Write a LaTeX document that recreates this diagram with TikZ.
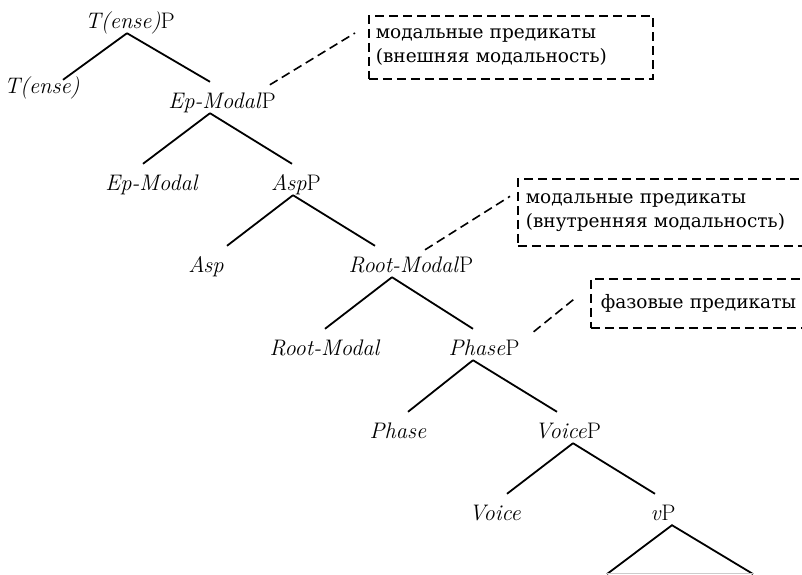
\documentclass[tikz,border=0pt]{standalone}
\usepackage{fontspec}
\newfontfamily\notefont{DejaVu Serif}

\tikzset{
  lbl/.style={anchor=base, font=\fontsize{22.5}{25}\selectfont,
    text height=21pt, text depth=0pt, inner xsep=0pt, inner ysep=5pt},
  branch/.style={line width=1.8pt},
  note/.style={draw, line width=1.6pt, dash pattern=on 9pt off 5pt,
    anchor=north west, align=left, font=\notefont\fontsize{18.5}{24}\selectfont,
    inner xsep=7pt, inner ysep=0pt},
  link/.style={line width=1.6pt, dash pattern=on 9pt off 5pt}
}

\begin{document}
\begin{tikzpicture}[x=1pt, y=-1pt]
    \useasboundingbox (0,0) rectangle (802,574);
    \clip (0,0) rectangle (802,574);

    % tree
    \node[lbl] (tp)   at (130,28)  {\textit{T(ense)}P};
    \node[lbl] (tns)  at (42,93)   {\textit{T(ense)}};
    \node[lbl] (epp)  at (222,108) {\textit{Ep-Modal}P};
    \node[lbl] (ep)   at (152,190) {\textit{Ep-Modal}};
    \node[lbl] (aspp) at (296,190) {\textit{Asp}P};
    \node[lbl] (asp)  at (206,272) {\textit{Asp}};
    \node[lbl] (rmp)  at (411,272) {\textit{Root-Modal}P};
    \node[lbl] (rm)   at (325,355) {\textit{Root-Modal}};
    \node[lbl] (php)  at (484,355) {\textit{Phase}P};
    \node[lbl] (ph)   at (398,438) {\textit{Phase}};
    \node[lbl] (vcp)  at (568,438) {\textit{Voice}P};
    \node[lbl] (vc)   at (495,520) {\textit{Voice}};
    \node[lbl] (vp)   at (663,520) {\textit{v}P};

    \draw[branch] ([xshift=-3pt]tp.south) -- ([xshift=21pt,yshift=-13pt]tns.north);
    \draw[branch] ([xshift=-3pt]tp.south) -- ([xshift=-12pt]epp.north);
    \draw[branch] ([xshift=-12pt]epp.south) -- ([xshift=-9pt]ep.north);
    \draw[branch] ([xshift=-12pt]epp.south) -- ([xshift=-4pt]aspp.north);
    \draw[branch] ([xshift=-3pt]aspp.south) -- ([xshift=21pt]asp.north);
    \draw[branch] ([xshift=-3pt]aspp.south) -- ([xshift=-36pt]rmp.north);
    \draw[branch] ([xshift=-19pt]rmp.south) -- (rm.north);
    \draw[branch] ([xshift=-19pt]rmp.south) -- ([xshift=-11pt]php.north);
    \draw[branch] ([xshift=-11pt]php.south) -- ([xshift=10pt]ph.north);
    \draw[branch] ([xshift=-11pt]php.south) -- ([xshift=-11pt]vcp.north);
    \draw[branch] ([xshift=5pt]vcp.south) -- ([xshift=12pt]vc.north);
    \draw[branch] ([xshift=5pt]vcp.south) -- ([xshift=-8pt]vp.north);

    % triangle under vP
    \coordinate (tl) at (607,574);
    \coordinate (tr) at (753,574);
    \draw[branch] (tl) -- ([xshift=9pt]vp.south) -- (tr);
    \draw[gray!40, line width=1pt] ([yshift=1pt]tl) -- ([yshift=1pt]tr);

    % notes
    \node[note, text width=270pt, minimum height=63pt] (extmod) at (368,15)
      {модальные предикаты\\(внешняя модальность)};
    \node[note, text width=280pt, inner xsep=8pt, minimum height=67pt] (intmod) at (517,178)
      {модальные предикаты\\(внутренняя модальность)};
    \node[note, text width=200pt, inner xsep=10pt, minimum height=49pt] (phasal) at (590,278)
      {фазовые предикаты};

    \draw[link] ([xshift=-6pt,yshift=-3pt]epp.north east) -- ([xshift=-13pt,yshift=-18pt]extmod.north west);
    \draw[link] ([xshift=14pt,yshift=-4pt]rmp.north) -- ([xshift=-7pt,yshift=16pt]intmod.west);
    \draw[link] ([xshift=14pt,yshift=-3pt]php.north east) -- ([xshift=-15pt,yshift=5pt]phasal.west);
\end{tikzpicture}
\end{document}
